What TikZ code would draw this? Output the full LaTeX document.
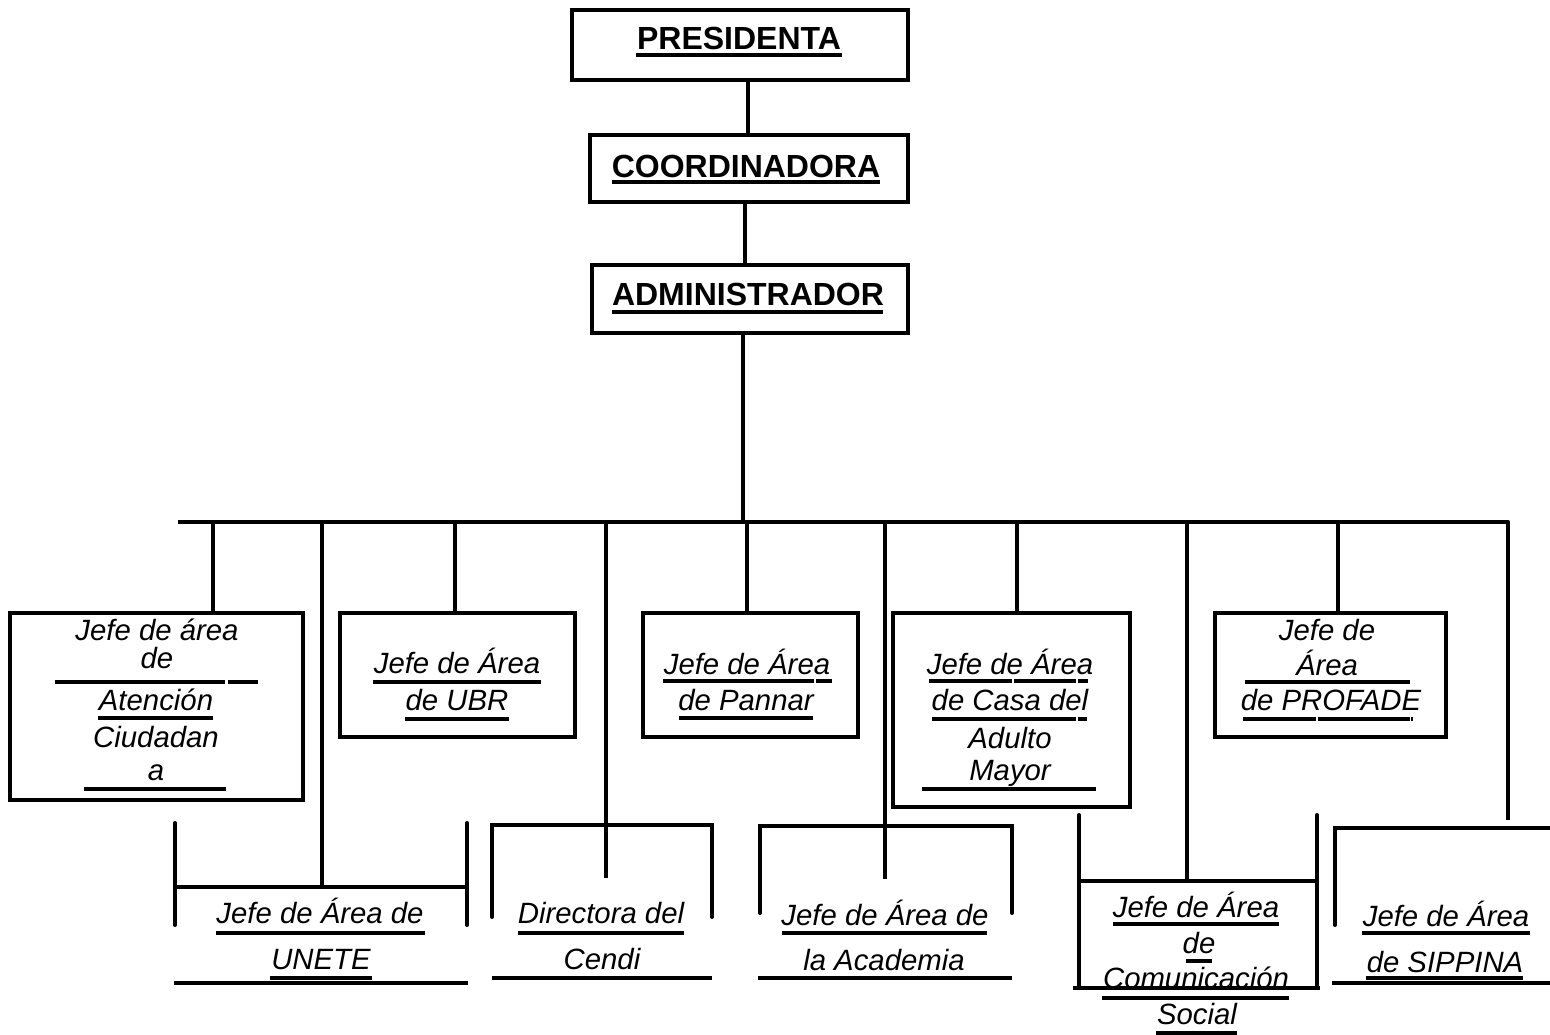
\documentclass[tikz,border=0pt]{standalone}
\usepackage{fontspec}
\setmainfont{Liberation Sans}
\usetikzlibrary{fit}
\begin{document}
\begin{tikzpicture}[x=0.75pt,y=-0.75pt,
  topbox/.style={draw, line width=3pt, inner sep=0pt},
  bx/.style={draw, line width=2.4pt, inner sep=0pt},
  toptxt/.style={font=\fontsize{24}{28}\selectfont\bfseries, inner sep=0pt, anchor=base},
  it/.style={font=\fontsize{22}{26}\selectfont\itshape, inner sep=0pt, anchor=base},
  ul/.style={line width=2.3pt},
  conn/.style={line width=2.4pt},
  bus/.style={line width=3.2pt, line join=round},
  brk/.style={line width=3pt, line cap=round},
  thinh/.style={line width=2.4pt}]
\useasboundingbox (0,0) rectangle (1550,1035);
\fill[white] (0,0) rectangle (1550,1035);

% ---------- top chain ----------
\node[topbox, fit={(572,10)(908,80)}] (pres) {};
\node[toptxt] (presT) at (739,50) {PRESIDENTA};
\draw[ul] (636,55) -- (842,55);

\node[topbox, fit={(590,135)(908,202)}] (coord) {};
\node[toptxt] (coordT) at (746,177) {COORDINADORA};
\draw[ul] (612,182) -- (880,182);

\node[topbox, fit={(592,265)(908,333)}] (adm) {};
\node[toptxt] (admT) at (748,305) {ADMINISTRADOR};
\draw[ul] (612,312) -- (883,312);

\coordinate (x748) at (748,0);
\coordinate (x745) at (745,0);
\draw[conn] (pres.south -| x748) -- (coord.north -| x748);
\draw[conn] (coord.south -| x745) -- (adm.north -| x745);

% ---------- bus ----------
\coordinate (busL) at (178,522);
\coordinate (busR) at (1508,522);
\coordinate (endR) at (1508,820);
\coordinate (bA) at (743,522);
\draw[conn] (adm.south -| bA) -- (bA);
\draw[bus] (busL) -- (busR) -- (endR);

% ---------- upper row boxes ----------
\node[bx, fit={(10,613)(303,800)}] (atn) {};
\node[bx, fit={(340,613)(575,737)}] (ubr) {};
\node[bx, fit={(643,613)(858,737)}] (pan) {};
\node[bx, fit={(893,613)(1130,807)}] (casa) {};
\node[bx, fit={(1215,613)(1446,737)}] (prof) {};

\coordinate (d1) at (213,522);
\coordinate (d2) at (322,522);
\coordinate (d3) at (455,522);
\coordinate (d4) at (606,522);
\coordinate (d5) at (747,522);
\coordinate (d6) at (885,522);
\coordinate (d7) at (1017,522);
\coordinate (d8) at (1187,522);
\coordinate (d9) at (1338,522);

\draw[conn] (d1) -- (d1 |- atn.north);
\draw[conn] (d3) -- (d3 |- ubr.north);
\draw[conn] (d5) -- (d5 |- pan.north);
\draw[conn] (d7) -- (d7 |- casa.north);
\draw[conn] (d9) -- (d9 |- prof.north);

% texts: Atencion
\node[it] (t1a) at (157,640) {Jefe de área};
\node[it] (t1b) at (157,668) {de};
\draw[ul] (55,682) -- (225,682);
\draw[ul] (228,682) -- (258,682);
\node[it] (t1c) at (156,710) {Atención};
\draw[ul] (98,718) -- (213,718);
\node[it] (t1d) at (156,747) {Ciudadan};
\node[it] (t1e) at (156,780) {a};
\draw[ul] (84,789) -- (226,789);

% UBR
\node[it] (t2a) at (457,673) {Jefe de Área};
\draw[ul] (373,682) -- (541,682);
\node[it] (t2b) at (457,710) {de UBR};
\draw[ul] (405,719) -- (509,719);

% Pannar
\node[it] (t3a) at (747,674) {Jefe de Área};
\draw[ul] (663,681) -- (814,681);
\draw[ul] (816,681) -- (832,681);
\node[it] (t3b) at (746,710) {de Pannar};
\draw[ul] (679,718) -- (813,718);

% Casa
\node[it] (t4a) at (1010,674) {Jefe de Área};
\draw[ul] (929,681) -- (1012,681);
\draw[ul] (1014,681) -- (1076,681);
\draw[ul] (1078,681) -- (1088,681);
\node[it] (t4b) at (1010,710) {de Casa del};
\draw[ul] (932,719) -- (1076,719);
\draw[ul] (1078,719) -- (1087,719);
\node[it] (t4c) at (1010,748) {Adulto};
\node[it] (t4d) at (1010,780) {Mayor};
\draw[ul] (922,789) -- (1096,789);

% PROFADE
\node[it] (t5a) at (1327,640) {Jefe de};
\node[it] (t5b) at (1327,675) {Área};
\draw[ul] (1245,682) -- (1410,682);
\node[it] (t5c) at (1331,710) {de PROFADE};
\draw[ul] (1243,719) -- (1316,719);
\draw[ul] (1318,719) -- (1410,719);
\draw[ul] (1411,719) -- (1413,719);

% ---------- lower row ----------
% UNETE
\coordinate (unHL) at (173,887);
\coordinate (unHR) at (468,887);
\draw[brk] (175,823) -- (175,925);
\draw[brk] (467,823) -- (467,925);
\draw[thinh] (unHL) -- (unHR);
\draw[conn] (d2) -- (d2 |- unHL);
\node[it] (t6a) at (320,923) {Jefe de Área de};
\draw[ul] (216,933) -- (425,933);
\node[it] (t6b) at (321,969) {UNETE};
\draw[ul] (270,978) -- (372,978);
\draw[ul] (174,983) -- (468,983);

% Cendi
\coordinate (ceEnd) at (606,878);
\draw[brk] (492,917) -- (492,825) -- (712,825) -- (712,917);
\draw[conn] (d4) -- (ceEnd);
\node[it] (t7a) at (601,923) {Directora del};
\draw[ul] (518,933) -- (684,933);
\node[it] (t7b) at (602,969) {Cendi};
\draw[ul] (492,978) -- (712,978);

% Academia
\coordinate (acEnd) at (885,879);
\draw[brk] (760,913) -- (760,826) -- (1012,826) -- (1012,913);
\draw[conn] (d6) -- (acEnd);
\node[it] (t8a) at (885,925) {Jefe de Área de};
\draw[ul] (782,933) -- (987,933);
\node[it] (t8b) at (884,970) {la Academia};
\draw[ul] (758,978) -- (1012,978);

% Comunicacion Social
\coordinate (coHL) at (1077,881);
\coordinate (coHR) at (1318,881);
\node[it] (t9a) at (1196,917) {Jefe de Área};
\draw[ul] (1113,924) -- (1279,924);
\node[it] (t9b) at (1199,953) {de};
\draw[ul] (1186,961) -- (1212,961);
\node[it] (t9c) at (1196,988) {Comunicación};
\draw[ul] (1102,998) -- (1289,998);
\node[it] (t9d) at (1197,1024) {Social};
\draw[ul] (1156,1033) -- (1237,1033);
\draw[brk] (1079,815) -- (1079,988);
\draw[brk] (1317,815) -- (1317,988);
\draw[thinh] (coHL) -- (coHR);
\draw[conn] (d8) -- (d8 |- coHL);
\draw[line width=3.2pt] (1073,988) -- (1320,988);

% SIPPINA
\draw[brk] (1335,925) -- (1335,828) -- (1552,828);
\node[it] (t10a) at (1446,926) {Jefe de Área};
\draw[ul] (1362,933) -- (1530,933);
\node[it] (t10b) at (1445,972) {de SIPPINA};
\draw[ul] (1366,978) -- (1523,978);
\draw[ul] (1332,983) -- (1552,983);
\end{tikzpicture}
\end{document}
